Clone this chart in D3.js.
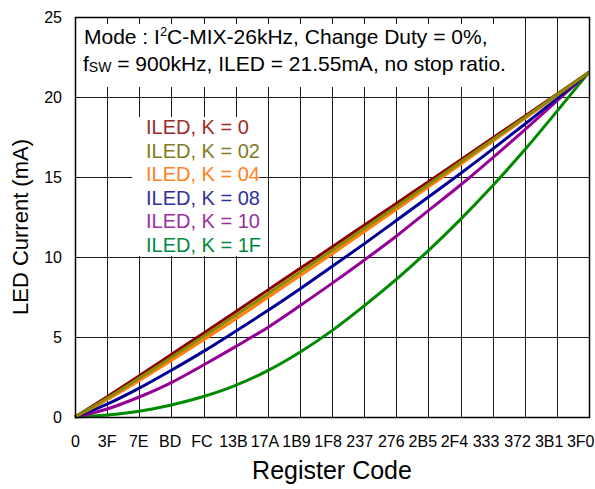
<!DOCTYPE html>
<html lang="en">
<head>
<meta charset="UTF-8">
<title>LED Current vs Register Code</title>
<script src="https://cdnjs.cloudflare.com/ajax/libs/d3/7.8.5/d3.min.js"></script>
<style>
    body { margin: 0; background: #fff; }
    svg { font-family: 'Liberation Sans', Arial, sans-serif; }
    .grid line { stroke: #1a1a1a; stroke-width: 1; shape-rendering: crispEdges; }
    .tick-label { font-size: 16px; fill: #000; }
    .note { font-size: 21px; fill: #000; }
    .legend { font-size: 20px; }
</style>
</head>
<body>
<div id="chart"></div>
<script>
// Register codes on the x axis (hex), one every 0x3F
const codeLabels = ["0", "3F", "7E", "BD", "FC", "13B", "17A", "1B9", "1F8",
                    "237", "276", "2B5", "2F4", "333", "372", "3B1", "3F0"];
const yTicks = [0, 5, 10, 15, 20, 25];

// LED current (mA) read at each register code above
const iledK00 = [0, 1.27, 2.58, 3.91, 5.24, 6.58, 7.93, 9.28, 10.62, 11.99, 13.35, 14.71, 16.07, 17.44, 18.80, 20.18, 21.55];
const iledK02 = [0, 1.17, 2.43, 3.72, 5.03, 6.36, 7.69, 9.04, 10.41, 11.78, 13.16, 14.53, 15.94, 17.33, 18.72, 20.14, 21.55];
const iledK04 = [0, 1.08, 2.28, 3.53, 4.82, 6.13, 7.47, 8.82, 10.19, 11.58, 12.97, 14.37, 15.79, 17.23, 18.65, 20.10, 21.55];
const iledK08 = [0, 0.80, 1.80, 2.92, 4.10, 5.36, 6.65, 8.00, 9.40, 10.82, 12.28, 13.75, 15.22, 16.74, 18.30, 19.90, 21.55];
const iledK10 = [0, 0.50, 1.25, 2.15, 3.25, 4.40, 5.60, 6.95, 8.35, 9.80, 11.30, 12.90, 14.50, 16.20, 17.95, 19.75, 21.55];
const iledK1F = [0, 0.12, 0.36, 0.75, 1.28, 1.98, 2.90, 4.05, 5.40, 6.95, 8.60, 10.40, 12.35, 14.45, 16.70, 19.10, 21.55];

const seriesNames = ["ILED, K = 0", "ILED, K = 02", "ILED, K = 04", "ILED, K = 08", "ILED, K = 10", "ILED, K = 1F"];
const seriesValues = [iledK00, iledK02, iledK04, iledK08, iledK10, iledK1F];
const lineColors = ["#8b0000", "#8a8a00", "#ff7f0e", "#000096", "#960096", "#008a00"];
const textColors = ["#9e2a2a", "#857a1e", "#ff8022", "#30309a", "#9a309a", "#008a40"];

const W = 595, H = 489;
const margin = { top: 17, right: 6, bottom: 72, left: 75 };
const width = W - margin.left - margin.right;
const height = H - margin.top - margin.bottom;

const svg = d3.select("#chart").append("svg")
    .attr("width", W)
    .attr("height", H);

const g = svg.append("g")
    .attr("transform", `translate(${margin.left},${margin.top})`);

const codes = codeLabels.map(s => parseInt(s, 16));

const x = d3.scaleLinear()
    .domain([0, d3.max(codes)])
    .range([0, width]);

const y = d3.scaleLinear()
    .domain([0, 25])
    .range([height, 0]);

// grid
const grid = g.append("g").attr("class", "grid");
grid.selectAll(".gx")
    .data(codes)
    .enter().append("line")
    .attr("x1", d => Math.round(x(d)) + 0.5)
    .attr("x2", d => Math.round(x(d)) + 0.5)
    .attr("y1", 0)
    .attr("y2", height);
grid.selectAll(".gy")
    .data(yTicks)
    .enter().append("line")
    .attr("x1", 0)
    .attr("x2", width)
    .attr("y1", d => Math.round(y(d)) + 0.5)
    .attr("y2", d => Math.round(y(d)) + 0.5);

// white boxes behind the note and the legend
g.append("rect")
    .attr("x", 1).attr("y", 1)
    .attr("width", 439).attr("height", 69)
    .attr("fill", "#fff");
g.append("rect")
    .attr("x", x(codes[2]) - 7).attr("y", y(18.75))
    .attr("width", 123).attr("height", 139)
    .attr("fill", "#fff");

// short inward ticks on the top edge (visible over the note box)
g.append("g").attr("class", "grid")
    .selectAll("line")
    .data(codes)
    .enter().append("line")
    .attr("x1", d => Math.round(x(d)) + 0.5)
    .attr("x2", d => Math.round(x(d)) + 0.5)
    .attr("y1", 0)
    .attr("y2", 7);

// curves
const line = d3.line()
    .x((d, i) => x(codes[i]))
    .y(d => y(d))
    .curve(d3.curveMonotoneX);

const drawOrder = [5, 4, 3, 2, 0, 1];
drawOrder.forEach(i => {
    g.append("path")
        .datum(seriesValues[i])
        .attr("fill", "none")
        .attr("stroke", lineColors[i])
        .attr("stroke-width", 3)
        .attr("stroke-linejoin", "round")
        .attr("d", line);
});

// frame
g.append("rect")
    .attr("x", 0.5).attr("y", 0.5)
    .attr("width", width).attr("height", height)
    .attr("fill", "none")
    .attr("stroke", "#000")
    .attr("stroke-width", 1.5);

// axes (labels only)
const xAxis = g.append("g")
    .attr("transform", `translate(0,${height})`)
    .call(d3.axisBottom(x).tickValues(codes).tickSize(0).tickPadding(19)
        .tickFormat((d, i) => codeLabels[i]));
xAxis.select(".domain").remove();
xAxis.selectAll("text")
    .attr("class", "tick-label")
    .attr("dx", (d, i) => (-i * 0.55) + "px");
xAxis.attr("font-family", null).attr("font-size", null);

const yAxis = g.append("g")
    .call(d3.axisLeft(y).tickValues(yTicks).tickSize(0).tickPadding(13));
yAxis.select(".domain").remove();
yAxis.selectAll("text").attr("class", "tick-label");
yAxis.attr("font-family", null).attr("font-size", null);

// axis titles
svg.append("text")
    .attr("x", margin.left + width / 2)
    .attr("y", 479)
    .attr("text-anchor", "middle")
    .attr("font-size", "25px")
    .text("Register Code");

svg.append("text")
    .attr("transform", "translate(28,227) rotate(-90)")
    .attr("text-anchor", "middle")
    .attr("font-size", "22px")
    .text("LED Current (mA)");

// note text
const note1 = svg.append("text").attr("class", "note").attr("x", 84).attr("y", 44);
note1.append("tspan").text("Mode : I");
note1.append("tspan").attr("font-size", "13px").attr("dy", -8).text("2");
note1.append("tspan").attr("dy", 8).text("C-MIX-26kHz, Change Duty = 0%,");

const note2 = svg.append("text").attr("class", "note").attr("x", 83).attr("y", 71);
note2.append("tspan").text("f");
note2.append("tspan").attr("font-size", "14px").attr("dy", 1).text("SW");
note2.append("tspan").attr("dy", -1).text(" = 900kHz, ILED = 21.55mA, no stop ratio.");

// legend
svg.append("g")
    .selectAll("text")
    .data(seriesNames)
    .enter().append("text")
    .attr("class", "legend")
    .attr("x", 146)
    .attr("y", (d, i) => 134 + i * 23.5)
    .attr("fill", (d, i) => textColors[i])
    .text(d => d);
</script>
</body>
</html>
